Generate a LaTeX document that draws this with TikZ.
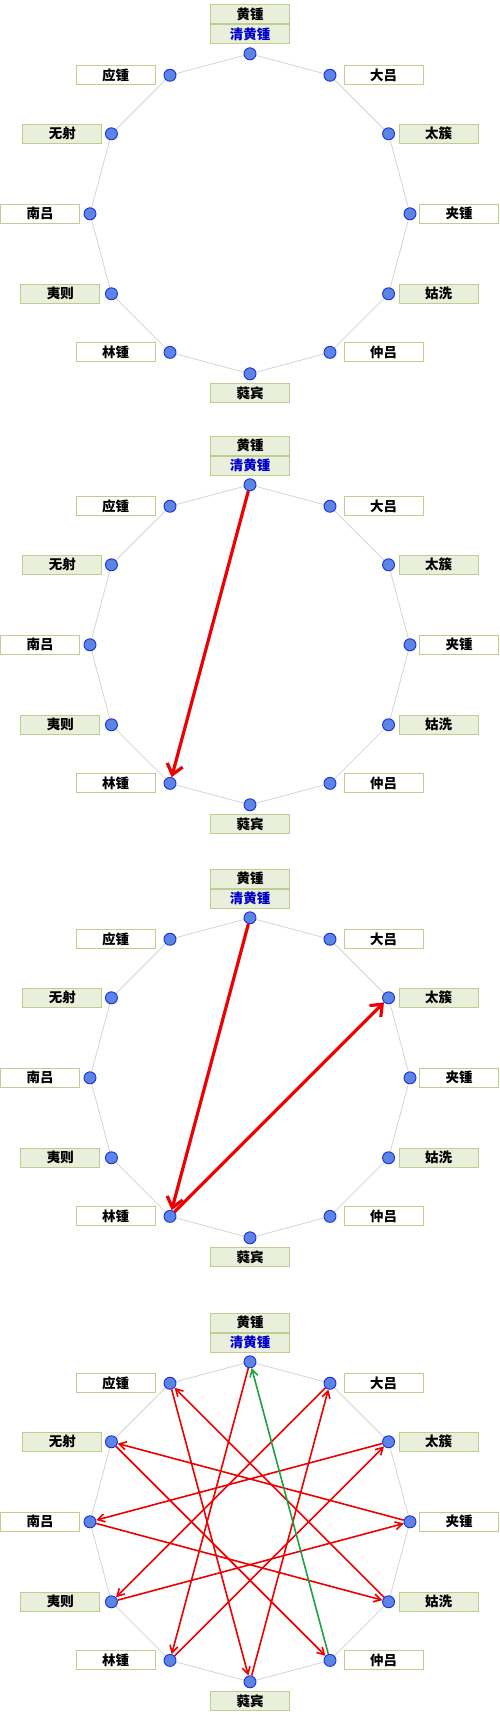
\documentclass[tikz,border=0pt]{standalone}
\usepackage{fontspec}
\newfontfamily\cjk{Noto Sans CJK SC}
\usetikzlibrary{arrows.meta}
\definecolor{boxfill}{RGB}{234,239,220}
\definecolor{boxline}{RGB}{192,205,145}
\definecolor{dotfill}{RGB}{92,132,225}
\definecolor{dotline}{RGB}{25,45,225}
\definecolor{rimgray}{RGB}{212,212,212}
\definecolor{qingblue}{RGB}{0,0,204}
\definecolor{fifthred}{RGB}{238,0,0}
\definecolor{backgreen}{RGB}{30,160,70}
\begin{document}
\begin{tikzpicture}[x=1pt,y=1pt,
	dot/.style={circle,draw=dotline,fill=dotfill,line width=0.9pt,minimum size=12pt,inner sep=0pt},
	lab/.style={draw=boxline,line width=1pt,minimum width=79pt,minimum height=19pt,inner sep=0pt,font=\cjk\bfseries\fontsize{13.5}{13.5}\selectfont},
	yang/.style={lab,fill=boxfill},
	yin/.style={lab,fill=white},
	rim/.style={rimgray,line width=0.8pt},
	bigarrow/.style={fifthred,line width=3.2pt,-{Straight Barb[length=10pt,width=16pt]}},
	fifth/.style={fifthred,line width=1.6pt,-{Straight Barb[length=7pt,width=8pt]}},
	back/.style={backgreen,line width=1.6pt,-{Straight Barb[length=7pt,width=8pt]}}]
	\useasboundingbox (0,0) rectangle (500,-1715);
	\foreach \p/\off in {a/0,b/431,c/864,d/1308}{
		\begin{scope}[shift={(250,-213.8-\off)}]
			\draw[rim] (90:160) \foreach \k in {1,...,11}{ -- (90-30*\k:160)} -- cycle;
			\foreach \k in {0,...,11}
				\node[dot] (\p\k) at (90-30*\k:160) {};
			\foreach \k/\txt/\sty/\anc/\dx in {1/大吕/yin/west/13.5, 2/太簇/yang/west/10, 3/夹锺/yin/west/9, 4/姑洗/yang/west/10, 5/仲吕/yin/west/13.5, 7/林锺/yin/east/-14.5, 8/夷则/yang/east/-11, 9/南吕/yin/east/-10, 10/无射/yang/east/-9, 11/应锺/yin/east/-14.5}
				\node[\sty,anchor=\anc] (\p l\k) at ([xshift=\dx]\p\k) {\txt};
			\node[yang,anchor=south] (\p q) at ([yshift=9.3]\p0) {\color{qingblue}清黄锺};
			\node[yang,anchor=south] (\p l0) at (\p q.north) {黄锺};
			\node[yang,anchor=north] (\p l6) at ([yshift=-9.4]\p6) {蕤宾};
		\end{scope}
	}
	\draw[bigarrow] (b0) -- (b7);
	\draw[bigarrow] (c0) -- (c7);
	\draw[bigarrow] (c7) -- (c2);
	\foreach \s/\t in {0/7,7/2,2/9,9/4,4/11,11/6,6/1,1/8,8/3,3/10,10/5}
		\draw[fifth] (d\s) -- (d\t);
	\draw[back] (d5) -- (d0);
\end{tikzpicture}
\end{document}
